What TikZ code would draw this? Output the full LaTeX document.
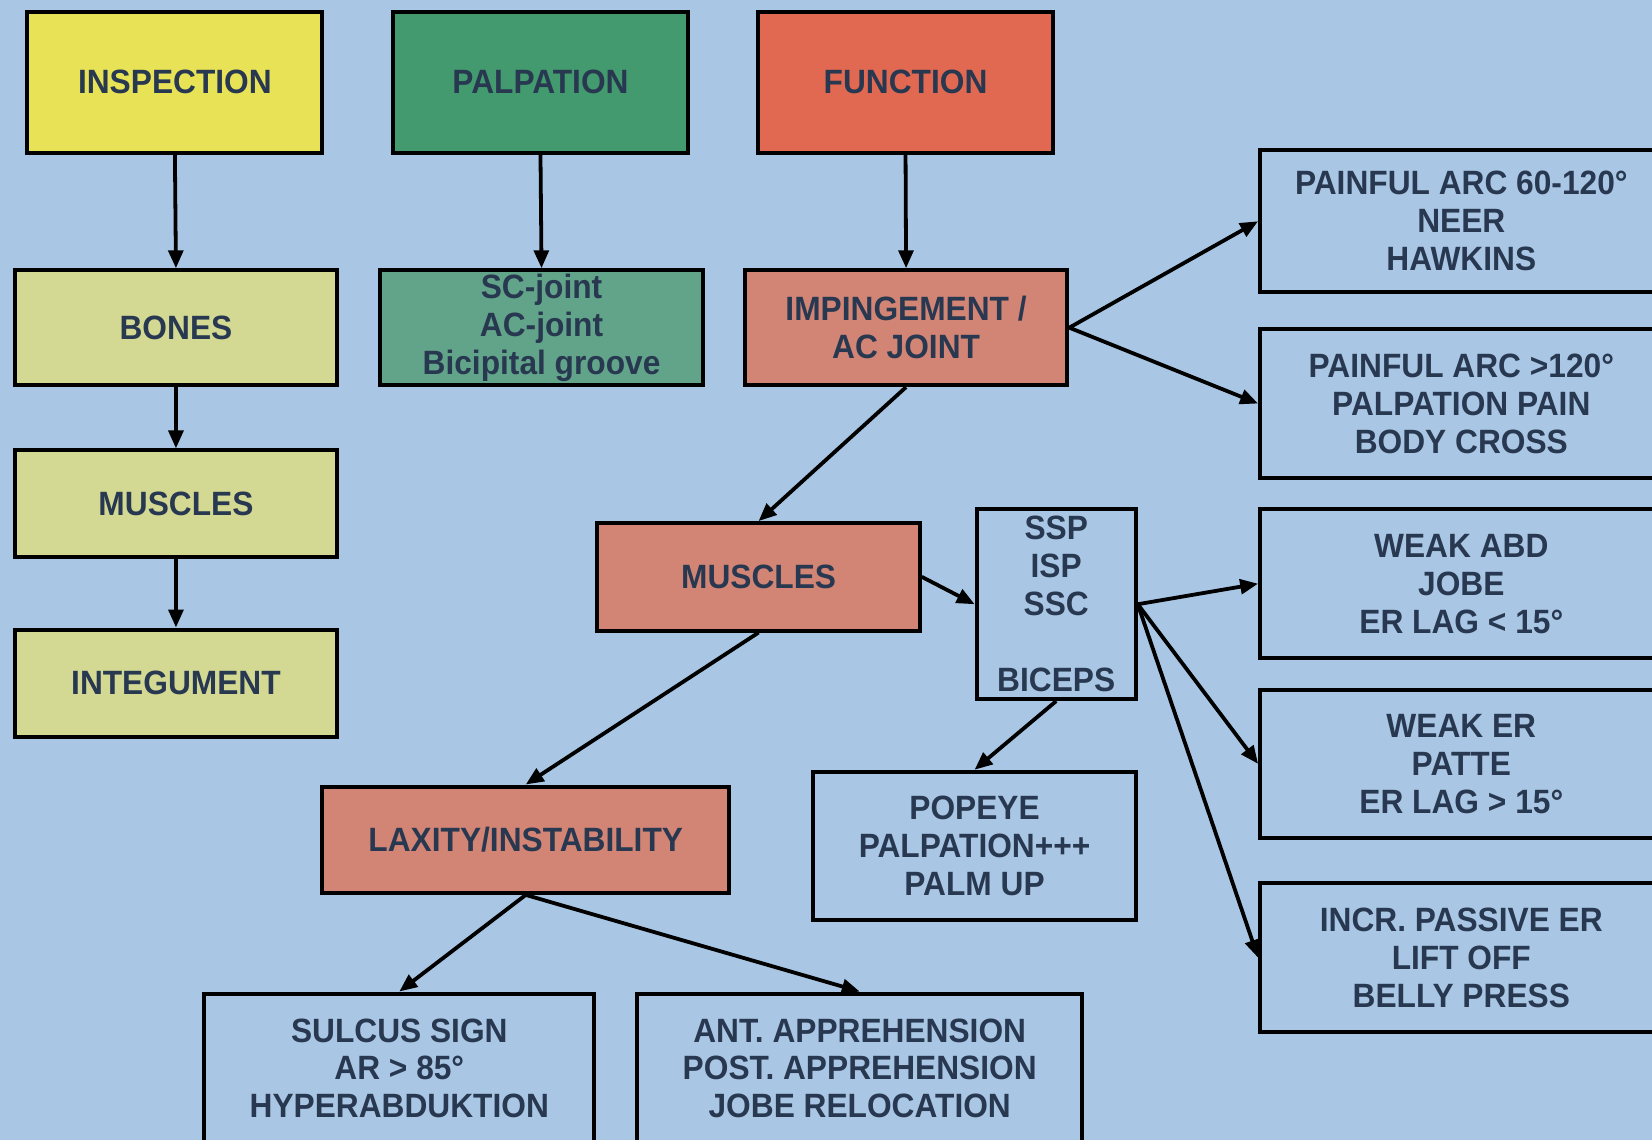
\documentclass[tikz,border=0pt]{standalone}
\usepackage{fontspec}
\setmainfont{Liberation Sans}[FakeStretch=0.94]
\usetikzlibrary{arrows.meta}
\definecolor{bgblue}{HTML}{A9C7E4}
\definecolor{navy}{HTML}{283850}
\definecolor{inspyellow}{HTML}{E8E356}
\definecolor{palpgreen}{HTML}{429A6E}
\definecolor{funcred}{HTML}{E16952}
\definecolor{paleyellow}{HTML}{D3D993}
\definecolor{palegreen}{HTML}{62A489}
\definecolor{salmon}{HTML}{D38575}

\begin{document}
\begin{tikzpicture}[x=1pt, y=-1pt,
    box/.style={draw=black, line width=3.8pt, text=navy, align=center, inner sep=0pt,
      font=\bfseries\fontsize{32}{36}\selectfont},
    head/.style={box, minimum width=280pt, minimum height=134pt},
    mid/.style={box, minimum width=306pt, minimum height=109pt},
    side/.style={box, minimum width=382pt, minimum height=141pt},
    >={Triangle[length=17pt, width=14pt]}]
      \useasboundingbox (0,0) rectangle (1568,1082);
      \fill[bgblue] (0,0) rectangle (1568,1082);
      \node[head, fill=inspyellow] (insp) at (166,78) {INSPECTION};
      \node[head, fill=palpgreen] (palp) at (513,78) {PALPATION};
      \node[head, fill=funcred] (func) at (859.5,78) {FUNCTION};
      \node[mid, fill=paleyellow] (bones) at (167,311) {BONES};
      \node[mid, fill=palegreen] (joints) at (514,311) {SC-joint\\AC-joint\\Bicipital groove};
      \node[mid, fill=salmon] (imping) at (860,311) {IMPINGEMENT /\\AC JOINT};
      \node[mid, fill=paleyellow, minimum height=101pt] (musc) at (167,478) {MUSCLES};
      \node[mid, fill=paleyellow, minimum height=102pt] (integ) at (167,648.5) {INTEGUMENT};
      \node[mid, fill=salmon, minimum height=102pt] (muscf) at (720,547.5) {MUSCLES};
      \node[box, minimum width=151pt, minimum height=180pt] (rotc) at (1002.5,573.5) {SSP\\ISP\\SSC\\~\\BICEPS};
      \node[mid, fill=salmon, minimum width=386pt, minimum height=101pt] (lax) at (499,797) {LAXITY/INSTABILITY};
      \node[box, minimum width=306pt, minimum height=141pt] (popeye) at (925,803) {POPEYE\\PALPATION+++\\PALM UP};
      \node[box, minimum width=370pt, minimum height=142pt] (sulcus) at (379,1014) {SULCUS SIGN\\AR > 85°\\HYPERABDUKTION};
      \node[box, minimum width=422pt, minimum height=142pt] (appr) at (816,1014) {ANT. APPREHENSION\\POST. APPREHENSION\\JOBE RELOCATION};
      \node[side, minimum height=135pt] (arcA) at (1387,210) {PAINFUL ARC 60-120°\\NEER\\HAWKINS};
      \node[side] (arcB) at (1387,383) {PAINFUL ARC >120°\\PALPATION PAIN\\BODY CROSS};
      \node[side] (weakabd) at (1387,554) {WEAK ABD\\JOBE\\ER LAG < 15°};
      \node[side] (weaker) at (1387,725) {WEAK ER\\PATTE\\ER LAG > 15°};
      \node[side] (incr) at (1387,909) {INCR. PASSIVE ER\\LIFT OFF\\BELLY PRESS};
      \foreach \a/\b in {insp.south/bones.north, palp.south/joints.north, func.south/imping.north,
          bones.south/musc.north, musc.south/integ.north, imping.east/arcA.west,
          imping.east/arcB.west, imping.south/muscf.north, muscf.east/rotc.west,
          rotc.east/weakabd.west, rotc.east/weaker.west, rotc.east/incr.west,
          rotc.south/popeye.north, muscf.south/lax.north, lax.south/sulcus.north,
          lax.south/appr.north}
      \draw[line width=3.6pt, ->] (\a) -- (\b);
    \end{tikzpicture}
\end{document}
